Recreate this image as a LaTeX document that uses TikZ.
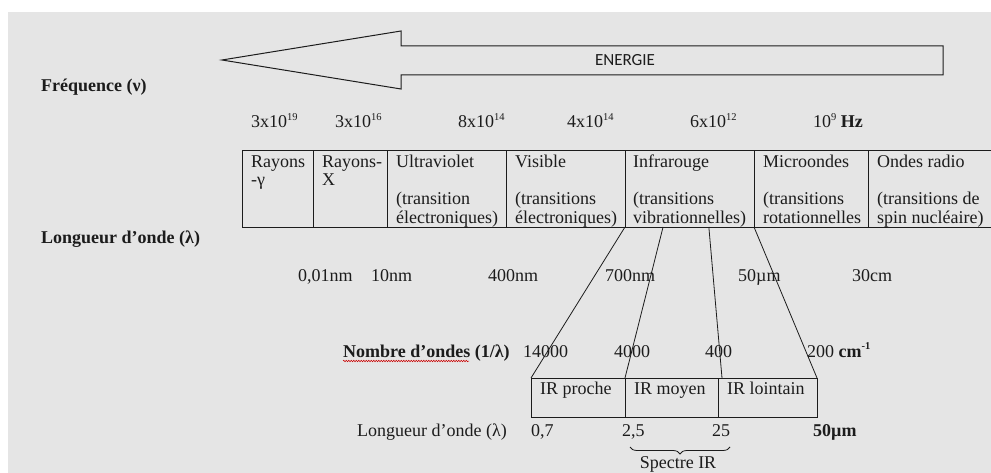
\documentclass[tikz,border=0pt]{standalone}
\usepackage{fontspec}
\setmainfont{Liberation Serif}
\newfontfamily\calibrifont{Carlito}
\usepackage{tikz}
\usetikzlibrary{positioning, calc, decorations.pathreplacing, decorations.pathmorphing}
\definecolor{bggray}{RGB}{229,229,229}
\definecolor{inkgray}{RGB}{28,28,28}
\newcommand{\mainsize}{\fontsize{18}{18.7}\selectfont}
\newcommand{\expo}[1]{\raisebox{0.42em}{\fontsize{10.5}{10.5}\selectfont #1}}

\begin{document}
\begin{tikzpicture}[x=1pt, y=-1pt,
  every node/.style={font=\mainsize, text=inkgray},
  cell/.style={draw=inkgray, line width=0.9pt, anchor=north west, inner sep=0pt, outer sep=0pt, minimum height=77pt},
  ircell/.style={draw=inkgray, line width=0.9pt, anchor=north west, inner sep=0pt, outer sep=0pt, minimum height=39pt},
  celltxt/.style={anchor=north west, inner sep=0pt, align=left},
  val/.style={anchor=base west, inner sep=0pt},
  link/.style={draw=inkgray, line width=0.8pt}]
\useasboundingbox (0,0) rectangle (991,473);
\clip (0,0) rectangle (991,473);
\fill[bggray] (8,12) rectangle (991,473);

% energy arrow
\draw[inkgray, line width=1pt, line join=miter] (222,60) -- (401,31) -- (401,46) -- (943,46) -- (943,75) -- (401,75) -- (401,89) -- cycle;
\node[font=\calibrifont\fontsize{17}{17}\selectfont] (energie) at (625,60) {ENERGIE};

% frequencies
\node[val, font=\mainsize\bfseries] (freq) at (41,92) {Fréquence (ν)};
\node[val] (f1) at (251,128) {3x10\expo{19}};
\node[val] (f2) at (335,128) {3x10\expo{16}};
\node[val] (f3) at (458,128) {8x10\expo{14}};
\node[val] (f4) at (567,128) {4x10\expo{14}};
\node[val] (f5) at (690,128) {6x10\expo{12}};
\node[val] (f6) at (813,128) {10\expo{9} \textbf{Hz}};

% spectrum table
\node[cell, minimum width=71pt] (gam) at (242,150) {};
\node[cell, minimum width=74pt] (rx) at (313,150) {};
\node[cell, minimum width=119pt] (uv) at (387,150) {};
\node[cell, minimum width=119pt] (vis) at (506,150) {};
\node[cell, minimum width=129pt] (ir) at (625,150) {};
\node[cell, minimum width=114pt] (micro) at (754,150) {};
\node[cell, minimum width=140pt] (radio) at (868,150) {};
\node[celltxt] (tgam) at ([shift={(9,3.9)}]gam.north west) {\strut Rayons\\-γ};
\node[celltxt] (trx) at ([shift={(9,3.9)}]rx.north west) {\strut Rayons-\\X};
\node[celltxt] (tuv) at ([shift={(9,3.9)}]uv.north west) {\strut Ultraviolet\\[18.7pt](transition\\électroniques)};
\node[celltxt] (tvis) at ([shift={(9,3.9)}]vis.north west) {\strut Visible\\[18.7pt](transitions\\électroniques)};
\node[celltxt] (tir) at ([shift={(8,3.9)}]ir.north west) {\strut Infrarouge\\[18.7pt](transitions\\vibrationnelles)};
\node[celltxt] (tmicro) at ([shift={(9,3.9)}]micro.north west) {\strut Microondes\\[18.7pt](transitions\\rotationnelles};
\node[celltxt] (tradio) at ([shift={(9,3.9)}]radio.north west) {\strut Ondes radio\\[18.7pt](transitions de\\spin nucléaire)};

% wavelengths
\node[val, font=\mainsize\bfseries] (lam) at (41,244) {Longueur d’onde (λ)};
\node[val] (w1) at (298,282) {0,01nm};
\node[val] (w2) at (371,282) {10nm};
\node[val] (w3) at (488,282) {400nm};
\node[val] (w4) at (605,282) {700nm};
\node[val] (w5) at (738,282) {50µm};
\node[val] (w6) at (852,282) {30cm};

% infrared zoom
\node[ircell, minimum width=94pt] (irp) at (531,378) {};
\node[ircell, minimum width=93pt] (irm) at (625,378) {};
\node[ircell, minimum width=99pt] (irl) at (718,378) {};
\node[val] (tirp) at (540,394) {IR proche};
\node[val] (tirm) at (634,394) {IR moyen};
\node[val] (tirl) at (727,394) {IR lointain};
\draw[link] (ir.south west) -- (irp.north west);
\draw[link] ($(ir.south west)!0.295!(ir.south east)$) -- (irm.north west);
\draw[link] ($(ir.south west)!0.65!(ir.south east)$) -- ([xshift=4pt]irl.north west);
\draw[link] (ir.south east) -- (irl.north east);

% wavenumbers
\node[val, font=\mainsize\bfseries] (nu) at (343,357) {Nombre d’ondes (1/λ)};
\draw[red!80!black, line width=0.5pt, decorate, decoration={snake, amplitude=0.8pt, segment length=2.5pt}] (343,361) -- (469,361);
\node[val] (k1) at (523,357) {14000};
\node[val] (k2) at (614,357) {4000};
\node[val] (k3) at (705,357) {400};
\node[val] (k4) at (807,357) {200 \textbf{cm\expo{-1}}};

% IR wavelengths
\node[val] (lamir) at (357,436) {Longueur d’onde (λ)};
\node[val] (l1) at (531,436) {0,7};
\node[val] (l2) at (622,436) {2,5};
\node[val] (l3) at (712,436) {25};
\node[val] (l4) at (813,436) {\textbf{50µm}};
\coordinate (bracel) at (630,447);
\coordinate (bracer) at (730,447);
\draw[inkgray, line width=0.8pt, decorate, decoration={brace, amplitude=7pt}] (bracer) -- (bracel);
\node[anchor=base] (spectre) at (678,468) {Spectre IR};
\end{tikzpicture}
\end{document}
